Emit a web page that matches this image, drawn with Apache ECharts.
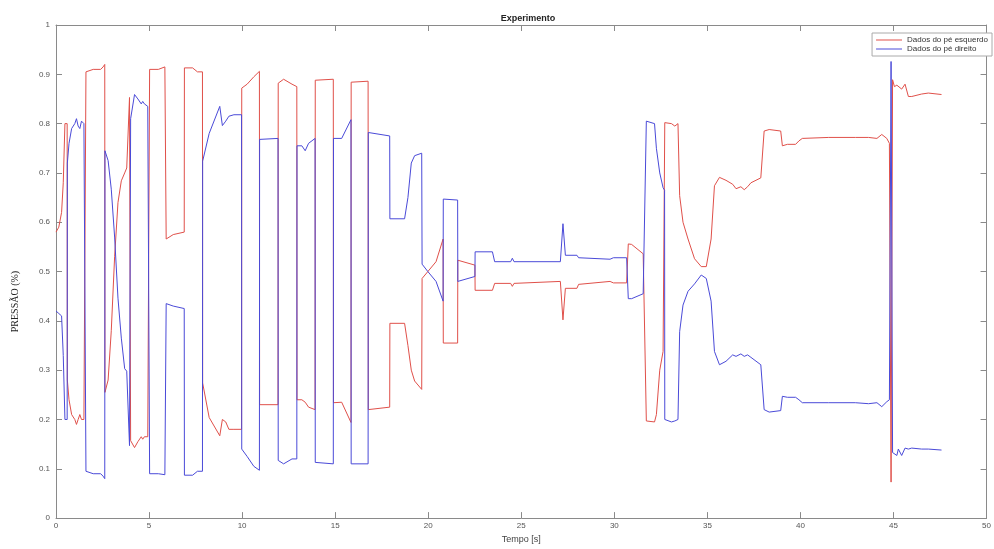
<!DOCTYPE html>
<html>
<head>
<meta charset="utf-8">
<script src="https://cdn.jsdelivr.net/npm/echarts@6/dist/echarts.min.js"></script>
<style>html,body{margin:0;padding:0;background:#fff;}#c{width:994px;height:549px;}</style>
</head>
<body>
<div id="c"></div>
<script>
const titleText = "Experimento";
const xName = "Tempo [s]";
const yName = "PRESSÃO (%)";
const leftName = "Dados do pé esquerdo";
const rightName = "Dados do pé direito";

const time = [
 0, 0.15, 0.30, 0.39, 0.48, 0.60, 0.61, 0.70, 0.84, 1.01, 1.10, 1.19, 1.28, 1.37, 1.50, 1.60,
 1.61, 2.00, 2.40, 2.53, 2.62, 2.63, 2.80, 2.97, 3.15, 3.33, 3.51, 3.69, 3.80, 3.95, 4.00,
 4.01, 4.22, 4.31, 4.40, 4.58, 4.66, 4.75, 4.93, 5.02,
 5.03, 5.50, 5.85, 5.91, 5.92, 6.30, 6.89, 6.90, 7.34, 7.60, 7.87,
 7.88, 8.23, 8.80, 8.94, 9.12, 9.29, 9.56, 9.97,
 9.98, 10.27, 10.63, 10.93, 10.94, 11.93, 11.94, 12.23, 12.68, 12.94,
 12.95, 13.21, 13.39, 13.57, 13.92, 13.93, 14.90, 14.91, 15.35, 15.85,
 15.86, 16.77, 16.78, 17.93, 17.94, 18.73, 18.91, 19.09, 19.27, 19.65,
 19.67, 19.98, 20.42, 20.80, 20.81, 21.58, 21.59, 22.51, 22.52, 23.45,
 23.57, 24.43, 24.52, 24.61, 27.10, 27.24, 27.37, 27.99, 28.08, 29.77, 29.95, 30.66,
 30.75, 30.93, 31.55, 31.62, 31.72, 32.16, 32.26, 32.44, 32.62, 32.70,
 32.71, 33.07, 33.25, 33.42, 33.51, 33.69, 33.96, 34.31, 34.67, 34.94,
 35.20, 35.38, 35.65, 36.00, 36.36, 36.54, 36.80, 36.98, 37.16, 37.34, 37.87,
 38.05, 38.32, 38.94, 39.03, 39.30, 39.74, 39.92, 40.10, 41.52, 42.95, 43.04,
 43.66, 44.11, 44.37, 44.64, 44.78, 44.87, 44.95, 45.05, 45.18, 45.26, 45.44,
 45.62, 45.80, 45.98, 46.51, 46.87, 47.58
];

const leftFoot = [
 0.58, 0.59, 0.62, 0.68, 0.80, 0.80, 0.28, 0.24, 0.21, 0.20, 0.19, 0.20, 0.21, 0.20, 0.20, 0.20,
 0.905, 0.91, 0.91, 0.915, 0.92, 0.255, 0.28, 0.38, 0.53, 0.64, 0.684, 0.70, 0.71, 0.853, 0.85,
 0.157, 0.143, 0.14, 0.155, 0.165, 0.16, 0.165, 0.165, 0.165,
 0.91, 0.91, 0.915, 0.915, 0.566, 0.575, 0.58, 0.913, 0.913, 0.905, 0.905,
 0.274, 0.204, 0.167, 0.20, 0.195, 0.18, 0.18, 0.18,
 0.872, 0.88, 0.895, 0.906, 0.23, 0.23, 0.882, 0.89, 0.88, 0.875,
 0.24, 0.24, 0.235, 0.225, 0.22, 0.888, 0.89, 0.234, 0.235, 0.194,
 0.884, 0.886, 0.22, 0.225, 0.395, 0.395, 0.35, 0.30, 0.278, 0.261,
 0.486, 0.50, 0.52, 0.566, 0.355, 0.355, 0.523, 0.513, 0.462, 0.462,
 0.476, 0.476, 0.47, 0.476, 0.48, 0.402, 0.466, 0.466, 0.474, 0.48, 0.477, 0.477,
 0.556, 0.555, 0.536, 0.536, 0.197, 0.195, 0.21, 0.30, 0.338, 0.34,
 0.802, 0.80, 0.795, 0.80, 0.654, 0.60, 0.566, 0.526, 0.51, 0.51,
 0.566, 0.674, 0.691, 0.685, 0.677, 0.668, 0.672, 0.666, 0.672, 0.68, 0.69,
 0.785, 0.788, 0.785, 0.755, 0.758, 0.758, 0.765, 0.77, 0.772, 0.772, 0.776,
 0.772, 0.77, 0.778, 0.77, 0.76, 0.073, 0.889, 0.875, 0.878, 0.882, 0.87,
 0.88, 0.855, 0.855, 0.86, 0.862, 0.859
];

const rightFoot = [
 0.42, 0.415, 0.41, 0.33, 0.20, 0.20, 0.72, 0.76, 0.79, 0.80, 0.81, 0.795, 0.79, 0.805, 0.80, 0.80,
 0.095, 0.09, 0.09, 0.085, 0.08, 0.745, 0.725, 0.667, 0.57, 0.446, 0.365, 0.303, 0.298, 0.147, 0.15,
 0.81, 0.859, 0.855, 0.85, 0.84, 0.845, 0.84, 0.835, 0.835,
 0.09, 0.09, 0.088, 0.085, 0.435, 0.43, 0.425, 0.087, 0.087, 0.095, 0.095,
 0.724, 0.78, 0.835, 0.796, 0.805, 0.815, 0.818, 0.818,
 0.14, 0.125, 0.105, 0.097, 0.768, 0.77, 0.117, 0.11, 0.12, 0.12,
 0.755, 0.755, 0.745, 0.76, 0.77, 0.113, 0.11, 0.77, 0.77, 0.808,
 0.11, 0.11, 0.782, 0.775, 0.607, 0.607, 0.65, 0.72, 0.735, 0.74,
 0.515, 0.50, 0.48, 0.44, 0.647, 0.645, 0.48, 0.49, 0.54, 0.54,
 0.52, 0.52, 0.527, 0.52, 0.52, 0.597, 0.533, 0.533, 0.528, 0.525, 0.528, 0.528,
 0.445, 0.445, 0.455, 0.455, 0.805, 0.80, 0.75, 0.70, 0.67, 0.665,
 0.20, 0.195, 0.197, 0.20, 0.378, 0.432, 0.46, 0.475, 0.493, 0.486,
 0.44, 0.338, 0.311, 0.318, 0.331, 0.328, 0.333, 0.328, 0.331, 0.326, 0.311,
 0.22, 0.215, 0.218, 0.247, 0.245, 0.245, 0.24, 0.234, 0.234, 0.234, 0.23,
 0.232, 0.234, 0.226, 0.236, 0.24, 0.926, 0.133, 0.133, 0.127, 0.14, 0.127,
 0.142, 0.14, 0.142, 0.14, 0.14, 0.138
];

const xTicks = [0, 5, 10, 15, 20, 25, 30, 35, 40, 45, 50];
const yTicks = [0, 0.1, 0.2, 0.3, 0.4, 0.5, 0.6, 0.7, 0.8, 0.9, 1];

const pairs = (xs, ys) => xs.map((x, i) => [x, ys[i]]);
const axisColor = '#8a8a8a';
const labelColor = '#555';

const chart = echarts.init(document.getElementById('c'), null, {renderer: 'canvas'});
const baseX = {
  type: 'value', min: xTicks[0], max: xTicks[xTicks.length - 1], interval: 5,
  axisLine: {show: true, onZero: false, lineStyle: {color: axisColor, width: 1}},
  axisTick: {show: true, inside: true, length: 6, lineStyle: {color: axisColor}},
  splitLine: {show: false}
};
const baseY = {
  type: 'value', min: yTicks[0], max: yTicks[yTicks.length - 1], interval: 0.1,
  axisLine: {show: true, onZero: false, lineStyle: {color: axisColor, width: 1}},
  axisTick: {show: true, inside: true, length: 6, lineStyle: {color: axisColor}},
  splitLine: {show: false}
};
chart.setOption({
  animation: false,
  backgroundColor: '#fff',
  title: {
    text: titleText, left: 523, top: 9, textAlign: 'center',
    textStyle: {fontFamily: 'Liberation Sans, Arial', fontSize: 9, fontWeight: 'bold', color: '#222'}
  },
  legend: {
    right: 2, top: 33, orient: 'vertical', itemGap: 1, itemWidth: 26, itemHeight: 8,
    backgroundColor: '#fff', borderColor: '#aaa', borderWidth: 1, padding: [3, 4, 3, 4],
    textStyle: {fontFamily: 'Liberation Sans, Arial', fontSize: 8, color: '#333'},
    data: [
      {name: leftName, icon: 'path://M0,0 L26,0 L26,1 L0,1 Z'},
      {name: rightName, icon: 'path://M0,0 L26,0 L26,1 L0,1 Z'}
    ]
  },
  grid: {left: 56, right: 2, top: 25, bottom: 28, containLabel: false},
  xAxis: [
    Object.assign({}, baseX, {
      position: 'bottom', name: xName, nameLocation: 'middle', nameGap: 14,
      nameTextStyle: {fontFamily: 'Liberation Sans, Arial', fontSize: 9, color: '#444'},
      axisLabel: {show: true, fontFamily: 'Liberation Sans, Arial', fontSize: 8, color: labelColor, margin: 4}
    }),
    Object.assign({}, baseX, {position: 'top', axisLabel: {show: false}})
  ],
  yAxis: [
    Object.assign({}, baseY, {
      position: 'left', name: yName, nameLocation: 'middle', nameGap: 36, nameRotate: 90,
      nameTextStyle: {fontFamily: 'Liberation Serif, Times New Roman', fontSize: 10, color: '#222', padding: [0, 0, 0, -60]},
      axisLabel: {show: true, fontFamily: 'Liberation Sans, Arial', fontSize: 8, color: labelColor, margin: 6,
        formatter: v => (Math.round(v * 10) / 10).toString()}
    }),
    Object.assign({}, baseY, {position: 'right', axisLabel: {show: false}})
  ],
  series: [
    {
      name: leftName, type: 'line', xAxisIndex: 0, yAxisIndex: 0,
      data: pairs(time, leftFoot), showSymbol: false, symbol: 'none',
      lineStyle: {color: '#e0504a', width: 1}, itemStyle: {color: '#e0504a'}
    },
    {
      name: rightName, type: 'line', xAxisIndex: 0, yAxisIndex: 0,
      data: pairs(time, rightFoot), showSymbol: false, symbol: 'none',
      lineStyle: {color: '#4a4ad8', width: 1}, itemStyle: {color: '#4a4ad8'}
    }
  ]
});
</script>
</body>
</html>
